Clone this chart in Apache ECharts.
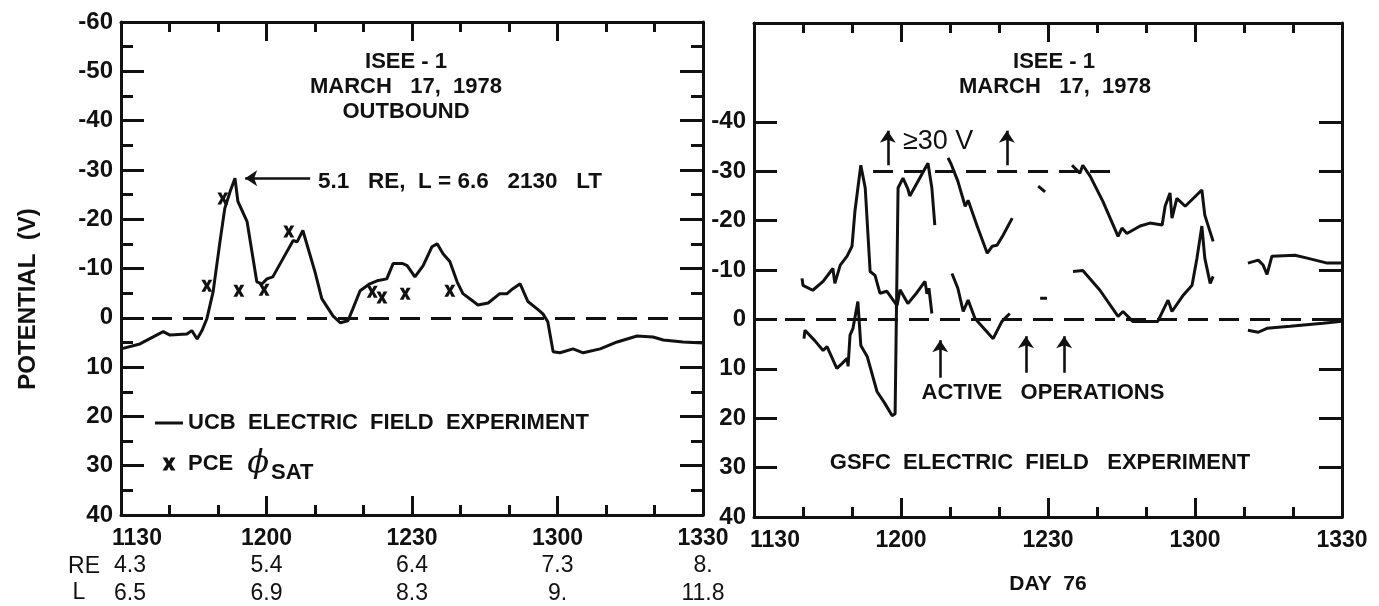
<!DOCTYPE html>
<html lang="en">
<head>
<meta charset="UTF-8">
<title>ISEE-1 spacecraft potential</title>
<script src="https://cdn.jsdelivr.net/npm/echarts@6/dist/echarts.min.js"></script>
<style>
  html, body { margin: 0; padding: 0; background: #fff; }
  #main { width: 1379px; height: 606px; }
</style>
</head>
<body>
<div id="main"></div>
<script>
// time is minutes after 11:30 UT, potential in volts (axis drawn inverted)
var timeLabels = ['1130', '1200', '1230', '1300', '1330'];
var reLabels = ['4.3', '5.4', '6.4', '7.3', '8.'];
var lLabels = ['6.5', '6.9', '8.3', '9.', '11.8'];
var gsfcTicks = [-40, -30, -20, -10, 0, 10, 20, 30];
var gsfcTickLabels = [-40, -30, -20, -10, 0, 10, 20, 30, 40];

// left panel: UCB electric field experiment
var ucb = [[0,6.3],[3.9,5.3],[8.7,2.8],[10.1,3.5],[13.6,3.3],[14.6,2.6],[15.7,4.3],[16.7,2.6],
  [17.7,0.2],[19.0,-5.3],[20.4,-15.4],[21.4,-22.2],[22.5,-25.6],[23.5,-28.3],[24.1,-23.6],
  [26.0,-19.5],[27.0,-13.4],[28.0,-7.3],[29.1,-6.9],[30.1,-7.9],[31.3,-8.3],[33.4,-12],
  [35.5,-15.7],[36.3,-15.4],[37.5,-17.7],[38.6,-14],[40,-9.3],[41.4,-3.9],[43.7,-0.4],
  [45.2,1],[46.8,0.6],[47.8,-1.8],[49.3,-5.5],[51.3,-6.9],[52.8,-7.5],[54.8,-7.9],[56.1,-11],
  [58.1,-11],[59,-10.6],[60.6,-8.3],[62.3,-10.6],[64.1,-14.4],[65.2,-15],[66.4,-13],
  [67.8,-11.4],[69.3,-7.3],[70.5,-4.9],[72.4,-3.5],[73.6,-2.6],[75.7,-3],[78.1,-4.9],
  [79.6,-4.9],[80.8,-5.9],[82.3,-6.9],[83.9,-3.3],[85.8,-1.8],[87,-0.8],[88,0.8],[89.1,6.9],
  [90.5,7.1],[93.2,6.3],[95.3,7.1],[98.8,6.3],[102.3,4.9],[106.4,3.7],[109.7,3.9],
  [111.8,4.5],[115.9,4.9],[120,5.1]];
var pce = [[17.7,-6.5],[21.0,-24.2],[24.3,-5.5],[29.5,-5.7],[34.6,-17.5],[51.8,-5.3],
  [53.8,-4.1],[58.6,-4.9],[67.8,-5.5]];

// right panel: GSFC electric field experiment, drawn in pieces
var gsfcA = [[9.8,-8.3],[10,-6.9],[12,-5.9],[14.1,-7.7],[16.1,-10.3],[16.5,-7.3],[17.6,-11],
  [19,-12.8],[20,-14.8],[20.6,-21.9],[21.2,-26.6],[21.8,-31.2],[22.7,-26.6],[23.7,-9.7],
  [24.7,-8.9],[25.7,-5.3],[27.1,-5.7],[28.4,-3.9],[29.2,-2.8],[29.8,-6.0],[31.4,-3.2],
  [33.3,-5.5],[34.9,-7.7],[35.3,-5.2],[35.7,-6.3],[36.3,-1.2]];
var gsfcB = [[10.2,3.9],[10.4,2.2],[12.4,4.3],[14.1,6.3],[14.9,5.5],[16.9,9.9],[18,8.9],
  [19,7.9],[19.2,9.5],[19.6,3.2],[20.2,1.8],[21.2,-3.6],[21.8,5.3],[23.1,7.5],[25.1,14.6],
  [26.7,17],[28.2,19.5],[28.8,19.1],[29.4,-26.6],[30.4,-28.6],[31.4,-26.4],[31.8,-25],
  [33.5,-28],[35.5,-31.6],[36.3,-26.6],[36.9,-19.1]];
var gsfcC = [[39.6,-32.7],[40.2,-31.5],[41.6,-28],[43.1,-22.9],[43.7,-24.1],[45.5,-19],
  [47.6,-13.4],[48.6,-14.8],[49.6,-15],[50.8,-17],[52.7,-20.5]];
var gsfcD = [[40.4,-9.3],[41.6,-6.3],[42.7,-1.6],[43.7,-3.9],[45.1,-0.2],[48.8,3.9],
  [50.6,0.4],[52.2,-1.2]];
var gsfcE = [[58,-27],[59.4,-25.8]];
var gsfcF = [[58.4,-4.3],[59.8,-4.3]];
var gsfcG = [[64.9,-31.2],[66.5,-29.6],[67.1,-31.2],[68.6,-29],[71.2,-23.9],[74.3,-16.8],
  [75.1,-18.5],[76.1,-17.4],[78.8,-18.9],[80.8,-19.5],[83.3,-19.1],[83.9,-22.9],[84.9,-25.6],
  [85.3,-20.5],[86.3,-24.5],[88,-22.9],[91.4,-26.2],[92,-21.1],[93.7,-15.8]];
var gsfcH = [[65.1,-9.7],[67.1,-9.9],[70.6,-5.9],[74.3,-0.6],[75.3,-1.6],[77.3,0.4],
  [82.4,0.4],[84.5,-3.9],[85.3,-1.6],[87.6,-4.9],[89.4,-6.9],[90.4,-12.4],[91.4,-18.9],
  [92,-12.4],[93.1,-7.3],[93.7,-8.7]];
var gsfcI = [[100.8,-11.4],[102.9,-12],[103.9,-11],[104.7,-9.1],[105.7,-12.8],[110.4,-13],
  [112.9,-12.4],[117,-11.4],[120,-11.4]];
var gsfcJ = [[100.8,2.2],[102.9,2.6],[104.7,1.8],[109.4,1.4],[116.1,0.8],[120,0.4]];

var INK = '#111';
var FONT = '"Liberation Sans", Arial, sans-serif';
var UCB_NAME = 'UCB  ELECTRIC  FIELD  EXPERIMENT';
var CROSS = 'path://M0,0L4.2,0L6,3.4L7.8,0L12,0L8.2,6L12,12L7.8,12L6,8.6L4.2,12L0,12L3.8,6Z';

function firstShifted(labels, pad, size, weight) {
  return {
    formatter: function (v) {
      var i = Math.round(v / 30);
      return i === 0 ? '{f|' + labels[i] + '}' : labels[i];
    },
    rich: { f: { padding: [0, 0, 0, pad], fontSize: size, fontWeight: weight, fontFamily: FONT, color: INK } }
  };
}

function timeAxis(grid, pos, opts) {
  opts = opts || {};
  var ax = {
    type: 'value', gridIndex: grid, position: pos, min: 0, max: 120, interval: 30,
    axisLine: { show: !opts.noLine, onZero: false, lineStyle: { color: INK, width: 3 } },
    axisTick: { show: !opts.noTick, inside: true, length: 19, lineStyle: { color: INK, width: 3 } },
    minorTick: { show: !opts.noTick, splitNumber: 3, length: 10, lineStyle: { color: INK, width: 3 } },
    splitLine: { show: false },
    axisLabel: { show: false }
  };
  if (opts.labels) {
    var f = firstShifted(opts.labels, opts.pad, opts.size, opts.weight);
    ax.axisLabel = {
      show: true, color: INK, fontFamily: FONT, fontSize: opts.size, fontWeight: opts.weight,
      margin: opts.margin, formatter: f.formatter, rich: f.rich
    };
  }
  if (opts.name) {
    ax.name = opts.name;
    ax.nameLocation = 'middle';
    ax.nameGap = opts.nameGap;
    ax.nameTextStyle = { color: INK, fontFamily: FONT, fontSize: 21, fontWeight: 'bold' };
  }
  return ax;
}

function potAxis(grid, pos, opts) {
  var ax = {
    type: 'value', gridIndex: grid, position: pos, min: -60, max: 40, interval: 10, inverse: true,
    axisLine: { show: true, onZero: false, lineStyle: { color: INK, width: 3 } },
    axisTick: { show: true, inside: true, length: 23, lineStyle: { color: INK, width: 3 } },
    minorTick: { show: !!opts.minor, splitNumber: 2, length: 12, lineStyle: { color: INK, width: 3 } },
    splitLine: { show: false },
    axisLabel: { show: false }
  };
  if (opts.tickValues) ax.axisTick.customValues = opts.tickValues;
  if (opts.labels) {
    ax.axisLabel = {
      show: true, color: INK, fontFamily: FONT, fontSize: 24, fontWeight: 'bold', margin: 8
    };
    if (opts.labelValues) {
      ax.axisLabel.customValues = opts.labelValues;
      ax.axisLabel.formatter = function (v) { return v < -40 ? '' : String(v); };
    }
  }
  return ax;
}

function segment(data) {
  return {
    type: 'line', xAxisIndex: 4, yAxisIndex: 2, data: data, showSymbol: false, symbol: 'none',
    lineStyle: { color: INK, width: 3 }, itemStyle: { color: INK }, silent: true, z: 3
  };
}

function txt(x, y, text, size, weight, align, extra) {
  var t = {
    type: 'text', x: x, y: y, silent: true,
    style: {
      text: text, fill: INK, fontFamily: FONT, fontSize: size, fontWeight: weight || 'bold',
      align: align || 'center', verticalAlign: 'middle'
    }
  };
  if (extra) for (var k in extra) t[k] = extra[k];
  return t;
}

var arrowLine = {
  silent: true, symbol: ['none', 'arrow'], symbolSize: 12, animation: false,
  label: { show: false }, lineStyle: { color: INK, width: 2.6, type: 'solid' }
};
function vArrow(t, from, to) { return [{ coord: [t, from] }, { coord: [t, to] }]; }

var gsfcSeries = [gsfcA, gsfcB, gsfcC, gsfcD, gsfcE, gsfcF, gsfcG, gsfcH, gsfcI, gsfcJ].map(segment);
gsfcSeries[0].markLine = {
  silent: true, symbol: 'none', animation: false, label: { show: false },
  lineStyle: { color: INK, width: 2.8, type: [20, 11] },
  data: [{ yAxis: 0 }, [{ coord: [24.3, -30] }, { coord: [73, -30] }]]
};
gsfcSeries[1].markLine = Object.assign({}, arrowLine, {
  data: [vArrow(27.3, -31.2, -38.2), vArrow(51.6, -31.2, -38.2),
         vArrow(38, 11.8, 4.2), vArrow(55.5, 10.8, 3.4), vArrow(63.3, 10.8, 3.4)]
});

var chart = echarts.init(document.getElementById('main'), null, { renderer: 'canvas' });
chart.setOption({
  animation: false,
  backgroundColor: '#fff',
  textStyle: { fontFamily: FONT, color: INK },
  grid: [
    { left: 121, top: 22, width: 582, height: 493, outerBoundsMode: 'none', containLabel: false },
    { left: 754, top: 23, width: 588, height: 494, outerBoundsMode: 'none', containLabel: false }
  ],
  xAxis: [
    timeAxis(0, 'bottom', { labels: timeLabels, pad: 32, size: 23, weight: 'bold', margin: 12 }),
    timeAxis(0, 'top', {}),
    timeAxis(0, 'bottom', { noLine: true, noTick: true, labels: reLabels, pad: 18, size: 23, weight: 'normal', margin: 39 }),
    timeAxis(0, 'bottom', { noLine: true, noTick: true, labels: lLabels, pad: 18, size: 23, weight: 'normal', margin: 67 }),
    timeAxis(1, 'bottom', { labels: timeLabels, pad: 42, size: 23, weight: 'bold', margin: 12, name: 'DAY  76', nameGap: 57 }),
    timeAxis(1, 'top', {})
  ],
  yAxis: [
    potAxis(0, 'left', { minor: true, labels: true }),
    potAxis(0, 'right', { minor: true }),
    potAxis(1, 'left', { labels: true, tickValues: gsfcTicks, labelValues: gsfcTickLabels }),
    potAxis(1, 'right', { tickValues: gsfcTicks })
  ],
  legend: {
    left: 155, top: 412, orient: 'vertical', padding: 0, itemWidth: 28, itemHeight: 13,
    itemGap: 14, selectedMode: false,
    itemStyle: { opacity: 1 },
    textStyle: {
      color: INK, fontFamily: FONT, fontSize: 22, fontWeight: 'bold',
      rich: {
        p: { color: INK, fontFamily: FONT, fontSize: 22, fontWeight: 'bold' },
        phi: { color: INK, fontFamily: '"DejaVu Serif", serif', fontSize: 32, fontStyle: 'italic', fontWeight: 'normal', padding: [0, 2, 0, 14] },
        sub: { color: INK, fontFamily: FONT, fontSize: 22, fontWeight: 'bold', padding: [18, 0, 0, 0] }
      }
    },
    formatter: function (name) {
      return name === 'PCE' ? '{p|PCE}{phi|\u03d5}{sub|SAT}' : name;
    },
    data: [
      { name: UCB_NAME, icon: 'path://M0,0H28V3H0Z' },
      { name: 'PCE', icon: CROSS }
    ]
  },
  graphic: [
    txt(28, 299, 'POTENTIAL  (V)', 24, 'bold', 'center', { rotation: Math.PI / 2 }),
    txt(406, 62, 'ISEE - 1', 22),
    txt(406, 87, 'MARCH   17,  1978', 22),
    txt(406, 112, 'OUTBOUND', 22),
    txt(318, 182, '5.1   RE,  L = 6.6   2130   LT', 22.5, 'bold', 'left'),
    txt(84, 567, 'RE', 23, 'normal'),
    txt(79, 593, 'L', 23, 'normal'),
    txt(1054, 62, 'ISEE - 1', 22),
    txt(1055, 87, 'MARCH   17,  1978', 22),
    txt(903, 142, '\u226530 V', 27, 'normal', 'left'),
    txt(1043, 393, 'ACTIVE   OPERATIONS', 22),
    txt(1040, 463, 'GSFC  ELECTRIC  FIELD   EXPERIMENT', 22)
  ],
  series: [
    {
      name: UCB_NAME, type: 'line', xAxisIndex: 0, yAxisIndex: 0, data: ucb,
      showSymbol: false, symbol: 'none', silent: true, z: 3,
      lineStyle: { color: INK, width: 3 }, itemStyle: { color: INK },
      markLine: {
        silent: true, symbol: 'none', animation: false, label: { show: false },
        lineStyle: { color: INK, width: 2.8, type: [20, 11] },
        data: [{ yAxis: 0 }]
      }
    },
    {
      name: 'PCE', type: 'scatter', xAxisIndex: 0, yAxisIndex: 0, data: pce,
      symbol: CROSS, symbolSize: [11, 12], silent: true, z: 4,
      itemStyle: { color: INK, opacity: 1 },
      markLine: Object.assign({}, arrowLine, {
        data: [[{ coord: [39, -28.3] }, { coord: [25.6, -28.3] }]]
      })
    }
  ].concat(gsfcSeries)
});
</script>
</body>
</html>
